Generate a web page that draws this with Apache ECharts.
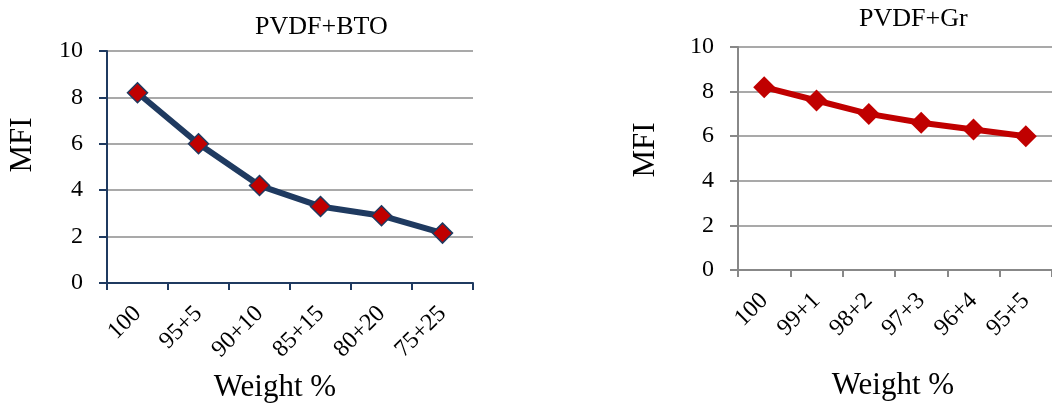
<!DOCTYPE html>
<html>
<head>
<meta charset="utf-8">
<script src="https://cdn.jsdelivr.net/npm/echarts@6/dist/echarts.min.js"></script>
<style>
  html, body { margin: 0; padding: 0; background: #fff; }
  #chart { width: 1052px; height: 407px; }
</style>
</head>
<body>
<div id="chart"></div>
<script>
// MFI versus filler loading for two PVDF composites
const btoCategories = ['100', '95+5', '90+10', '85+15', '80+20', '75+25'];
const btoMFI = [8.2, 6.0, 4.2, 3.3, 2.9, 2.15];

const grCategories = ['100', '99+1', '98+2', '97+3', '96+4', '95+5'];
const grMFI = [8.2, 7.6, 7.0, 6.6, 6.3, 6.0];

const yTicks = { min: 0, max: 10, interval: 2 };

const FONT = '"Liberation Serif", "Times New Roman", serif';
const NAVY = '#1f3a60';
const RED = '#c00000';
const GRID_GRAY = '#8c8c8c';

function xAxisCfg(gridIndex, data, lineColor) {
  return {
    type: 'category',
    gridIndex: gridIndex,
    data: data,
    boundaryGap: true,
    axisLine: { show: true, lineStyle: { color: lineColor, width: 2 } },
    axisTick: { show: true, length: 7, lineStyle: { color: lineColor, width: 2 } },
    axisLabel: {
      rotate: 45, margin: 27, color: '#000',
      fontFamily: FONT, fontSize: 24
    },
    splitLine: { show: false }
  };
}

function yAxisCfg(gridIndex, lineColor) {
  return {
    type: 'value',
    gridIndex: gridIndex,
    min: yTicks.min, max: yTicks.max, interval: yTicks.interval,
    axisLine: { show: true, lineStyle: { color: lineColor, width: 2 } },
    axisTick: { show: true, length: 8, lineStyle: { color: lineColor, width: 2 } },
    axisLabel: { margin: 24, color: '#000', fontFamily: FONT, fontSize: 24 },
    splitLine: { show: true, lineStyle: { color: GRID_GRAY, width: 1.5 } }
  };
}

function axisTitle(x, y, text, rotate) {
  return {
    type: 'text', x: x, y: y, rotation: rotate ? Math.PI / 2 : 0,
    style: {
      text: text, fill: '#000', font: '31px ' + FONT,
      textAlign: 'center', textVerticalAlign: 'middle'
    }
  };
}

const chart = echarts.init(document.getElementById('chart'), null, { renderer: 'canvas' });

chart.setOption({
  backgroundColor: '#fff',
  animation: false,
  title: [
    { text: 'PVDF+BTO', left: 250, top: 9,
      textStyle: { fontFamily: FONT, fontWeight: 'normal', fontSize: 26, color: '#000' } },
    { text: 'PVDF+Gr', left: 854, top: 1,
      textStyle: { fontFamily: FONT, fontWeight: 'normal', fontSize: 26, color: '#000' } }
  ],
  grid: [
    { left: 107, top: 51, width: 366, height: 232 },
    { left: 738, top: 47, width: 324, height: 223 }
  ],
  xAxis: [
    xAxisCfg(0, btoCategories, NAVY),
    xAxisCfg(1, grCategories, '#888888')
  ],
  yAxis: [
    yAxisCfg(0, NAVY),
    yAxisCfg(1, '#888888')
  ],
  series: [
    {
      type: 'line', xAxisIndex: 0, yAxisIndex: 0, data: btoMFI,
      lineStyle: { color: NAVY, width: 6 },
      symbol: 'diamond', symbolSize: 20,
      itemStyle: { color: RED, borderColor: NAVY, borderWidth: 1.5 }
    },
    {
      type: 'line', xAxisIndex: 1, yAxisIndex: 1, data: grMFI,
      lineStyle: { color: RED, width: 6 },
      symbol: 'diamond', symbolSize: 22,
      itemStyle: { color: RED, borderWidth: 0 }
    }
  ],
  graphic: [
    axisTitle(23, 145, 'MFI', true),
    axisTitle(275, 388, 'Weight %', false),
    axisTitle(646, 150, 'MFI', true),
    axisTitle(893, 386, 'Weight %', false)
  ]
});
</script>
</body>
</html>
